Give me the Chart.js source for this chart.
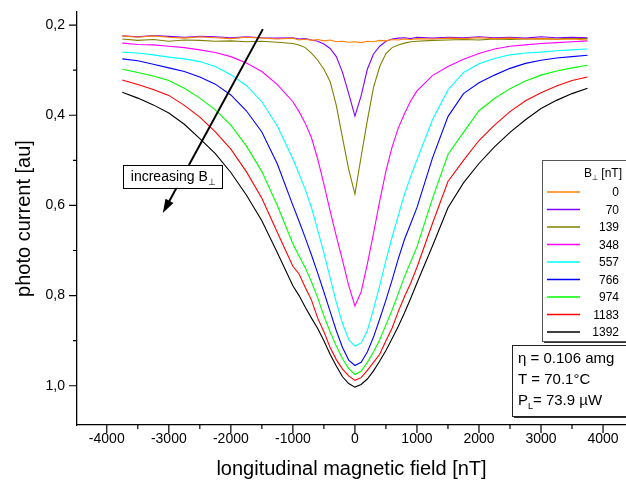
<!DOCTYPE html>
<html>
<head>
<meta charset="utf-8">
<script src="https://cdn.jsdelivr.net/npm/chart.js@4.4.0/dist/chart.umd.min.js"></script>
<style>
  html, body { margin: 0; padding: 0; background: #fff; }
  #wrap { width: 626px; height: 481px; }
</style>
</head>
<body>
<div id="wrap"><canvas id="chart" width="626" height="481"></canvas></div>
<script>
// ── Data ────────────────────────────────────────────────────
// longitudinal magnetic field sample points [nT]
const fieldNT = [-3750,-3500,-3250,-3000,-2750,-2500,-2250,-2000,-1750,-1500,-1250,-1000,
  -900,-800,-700,-600,-500,-400,-300,-200,-100,0,100,200,300,400,500,600,700,800,900,
  1000,1250,1500,1750,2000,2250,2500,2750,3000,3250,3500,3750];

// transverse field B_perp [nT], one curve each
const bPerpLabels = ['0','70','139','348','557','766','974','1183','1392'];

// photo current [au]
const photo0 = [0.224,0.227,0.224,0.227,0.229,0.226,0.228,0.230,0.227,0.229,0.231,0.229,
  0.233,0.231,0.234,0.232,0.235,0.233,0.237,0.236,0.238,0.237,0.239,0.236,0.237,0.234,0.235,0.232,0.233,0.231,0.232,
  0.230,0.231,0.229,0.230,0.228,0.230,0.229,0.231,0.230,0.232,0.231,0.233];
const photo70 = [0.224,0.226,0.223,0.225,0.227,0.225,0.226,0.228,0.226,0.228,0.229,0.228,
  0.231,0.230,0.233,0.236,0.242,0.252,0.270,0.305,0.352,0.402,0.357,0.298,0.264,0.247,0.236,0.231,0.229,0.228,0.230,
  0.227,0.229,0.227,0.228,0.226,0.228,0.227,0.229,0.226,0.228,0.227,0.228];
const photo139 = [0.231,0.234,0.232,0.236,0.233,0.234,0.236,0.235,0.237,0.236,0.238,0.241,
  0.244,0.250,0.262,0.278,0.298,0.325,0.378,0.450,0.520,0.575,0.492,0.412,0.338,0.292,0.263,0.250,0.244,0.240,0.237,
  0.236,0.234,0.233,0.232,0.233,0.231,0.232,0.231,0.230,0.231,0.229,0.230];
const photo348 = [0.240,0.243,0.244,0.247,0.250,0.255,0.261,0.270,0.284,0.303,0.332,0.370,
  0.392,0.418,0.450,0.497,0.553,0.612,0.668,0.722,0.778,0.823,0.792,0.730,0.662,0.590,0.524,0.470,0.428,0.396,0.368,
  0.346,0.312,0.292,0.276,0.263,0.253,0.247,0.244,0.241,0.239,0.237,0.235];
const photo557 = [0.260,0.262,0.266,0.271,0.275,0.281,0.292,0.310,0.334,0.370,0.424,0.497,
  0.530,0.565,0.605,0.655,0.705,0.760,0.815,0.862,0.898,0.912,0.905,0.878,0.830,0.778,0.722,0.670,0.622,0.575,0.535,
  0.499,0.410,0.344,0.305,0.286,0.274,0.266,0.262,0.260,0.257,0.255,0.253];
const photo766 = [0.275,0.279,0.287,0.295,0.303,0.315,0.331,0.355,0.390,0.437,0.508,0.600,
  0.635,0.672,0.710,0.750,0.792,0.835,0.878,0.915,0.943,0.955,0.948,0.925,0.892,0.852,0.810,0.765,0.718,0.675,0.640,
  0.605,0.495,0.403,0.352,0.328,0.311,0.296,0.285,0.278,0.273,0.270,0.267];
const photo974 = [0.298,0.305,0.313,0.323,0.340,0.362,0.388,0.422,0.468,0.525,0.600,0.685,
  0.712,0.738,0.770,0.805,0.845,0.880,0.912,0.940,0.962,0.975,0.968,0.948,0.925,0.898,0.865,0.832,0.795,0.758,0.725,
  0.692,0.585,0.487,0.438,0.390,0.363,0.341,0.324,0.311,0.302,0.295,0.289];
const photo1183 = [0.322,0.332,0.343,0.356,0.378,0.404,0.437,0.475,0.525,0.584,0.660,0.735,
  0.752,0.782,0.810,0.850,0.880,0.915,0.942,0.963,0.978,0.988,0.982,0.966,0.948,0.930,0.900,0.872,0.835,0.802,0.772,
  0.737,0.640,0.547,0.500,0.456,0.422,0.392,0.368,0.350,0.335,0.323,0.315];
const photo1392 = [0.349,0.362,0.377,0.395,0.420,0.452,0.485,0.527,0.577,0.634,0.705,0.778,
  0.800,0.826,0.850,0.873,0.900,0.930,0.956,0.980,0.995,1.003,0.997,0.985,0.967,0.945,0.922,0.895,0.868,0.838,0.806,
  0.772,0.690,0.605,0.550,0.507,0.470,0.438,0.410,0.385,0.367,0.352,0.340];

const allSeries = [photo0, photo70, photo139, photo348, photo557, photo766, photo974, photo1183, photo1392];

// axis ticks
const xTickValues = [-4000,-3000,-2000,-1000,0,1000,2000,3000,4000];
const xMinorValues = [-3500,-2500,-1500,-500,500,1500,2500,3500];
const yTickValues = [0.2,0.4,0.6,0.8,1.0];
const yMinorValues = [0.3,0.5,0.7,0.9];

// annotations
const arrowFrom = { x: -1484, y: 0.209 };
const arrowTo = { x: -3097, y: 0.617 };
const arrowNoteAt = { x: -3742, y: 0.510 };
const paramLines = [
  { main: 'η = 0.106 amg' },
  { main: 'T = 70.1°C' },
  { main: 'P', sub: 'L', rest: '= 73.9 µW' },
];

// ── Styles ───────────────────────────────────────────────────
const lineColors = ['#FF8000','#8000FF','#808000','#FF00FF','#00FFFF','#0000FF','#00FF00','#FF0000','#000000'];
const FONT = "'Liberation Sans', Arial, sans-serif";

// draws base + small subscript + rest, returns end x
function drawSubText(ctx, x, y, base, sub, rest, size) {
  ctx.font = `${size}px ${FONT}`;
  ctx.fillText(base, x, y);
  x += ctx.measureText(base).width;
  ctx.font = `${Math.round(size * 0.62)}px ${FONT}`;
  ctx.fillText(sub, x, y + size * 0.38);
  x += ctx.measureText(sub).width;
  if (rest) {
    ctx.font = `${size}px ${FONT}`;
    ctx.fillText(rest, x, y);
    x += ctx.measureText(rest).width;
  }
  return x;
}
function subTextWidth(ctx, base, sub, rest, size) {
  ctx.font = `${size}px ${FONT}`;
  let w = ctx.measureText(base).width + (rest ? ctx.measureText(rest).width : 0);
  ctx.font = `${Math.round(size * 0.62)}px ${FONT}`;
  return w + ctx.measureText(sub).width;
}

const decorations = {
  id: 'decorations',
  afterDraw(chart) {
    const { ctx, chartArea, scales: { x, y } } = chart;
    ctx.save();

    // tick marks (outside, major + minor)
    ctx.strokeStyle = '#000';
    ctx.lineWidth = 1.2;
    ctx.beginPath();
    const tickX = (v, len) => {
      const px = x.getPixelForValue(v);
      ctx.moveTo(px, chartArea.bottom); ctx.lineTo(px, chartArea.bottom + len);
    };
    const tickY = (v, len) => {
      const py = y.getPixelForValue(v);
      ctx.moveTo(chartArea.left, py); ctx.lineTo(chartArea.left - len, py);
    };
    xTickValues.forEach(v => tickX(v, 8));
    xMinorValues.forEach(v => tickX(v, 4));
    yTickValues.forEach(v => tickY(v, 8));
    yMinorValues.forEach(v => tickY(v, 4));
    ctx.stroke();

    // arrow "increasing B_perp"
    const ax1 = x.getPixelForValue(arrowFrom.x), ay1 = y.getPixelForValue(arrowFrom.y);
    const ax2 = x.getPixelForValue(arrowTo.x), ay2 = y.getPixelForValue(arrowTo.y);
    const ang = Math.atan2(ay2 - ay1, ax2 - ax1);
    const headLen = 14, headW = 4.5;
    ctx.lineWidth = 2;
    ctx.beginPath();
    ctx.moveTo(ax1, ay1);
    ctx.lineTo(ax2 - Math.cos(ang) * headLen * 0.8, ay2 - Math.sin(ang) * headLen * 0.8);
    ctx.stroke();
    ctx.fillStyle = '#000';
    ctx.beginPath();
    ctx.moveTo(ax2, ay2);
    ctx.lineTo(ax2 - Math.cos(ang) * headLen - Math.sin(ang) * headW, ay2 - Math.sin(ang) * headLen + Math.cos(ang) * headW);
    ctx.lineTo(ax2 - Math.cos(ang) * headLen + Math.sin(ang) * headW, ay2 - Math.sin(ang) * headLen - Math.cos(ang) * headW);
    ctx.closePath();
    ctx.fill();

    // note box
    const nx = x.getPixelForValue(arrowNoteAt.x), ny = y.getPixelForValue(arrowNoteAt.y);
    const nw = subTextWidth(ctx, 'increasing B', '⊥', '', 14) + 14;
    ctx.fillStyle = '#fff';
    ctx.fillRect(nx, ny, nw, 23);
    ctx.strokeStyle = '#000';
    ctx.lineWidth = 1;
    ctx.strokeRect(Math.round(nx) + 0.5, Math.round(ny) + 0.5, Math.round(nw), 23);
    ctx.fillStyle = '#000';
    ctx.textBaseline = 'middle';
    ctx.textAlign = 'left';
    drawSubText(ctx, nx + 8, ny + 12, 'increasing B', '⊥', '', 14);

    // legend box
    const lx = chartArea.right - 84, ly = 160, lw = 110, lh = 181;
    ctx.fillStyle = '#333';
    ctx.fillRect(lx + 2, ly + 2, lw, lh);
    ctx.fillStyle = '#fff';
    ctx.fillRect(lx, ly, lw, lh);
    ctx.strokeStyle = '#555';
    ctx.strokeRect(lx + 0.5, ly + 0.5, lw, lh);
    ctx.fillStyle = '#000';
    const titleRight = lx + 80;
    const tw = subTextWidth(ctx, 'B', '⊥', ' [nT]', 12);
    drawSubText(ctx, titleRight - tw, ly + 14, 'B', '⊥', ' [nT]', 12);
    bPerpLabels.forEach((lab, i) => {
      const ry = ly + 32 + i * 17.5;
      ctx.strokeStyle = lineColors[i];
      ctx.lineWidth = 1.4;
      ctx.beginPath();
      ctx.moveTo(lx + 5, ry); ctx.lineTo(lx + 38, ry);
      ctx.stroke();
      ctx.fillStyle = '#000';
      ctx.font = `12px ${FONT}`;
      ctx.textAlign = 'right';
      ctx.fillText(lab, lx + 77, ry + 1);
      ctx.textAlign = 'left';
    });

    // parameter box
    const px = chartArea.right - 114, py = 345, pw = 130, ph = 71;
    ctx.fillStyle = '#333';
    ctx.fillRect(px + 2, py + 2, pw, ph);
    ctx.fillStyle = '#fff';
    ctx.fillRect(px, py, pw, ph);
    ctx.strokeStyle = '#222';
    ctx.lineWidth = 1;
    ctx.strokeRect(px + 0.5, py + 0.5, pw, ph);
    ctx.fillStyle = '#000';
    paramLines.forEach((ln, i) => {
      const ty = py + 14 + i * 21;
      if (ln.sub) drawSubText(ctx, px + 6, ty, ln.main, ln.sub, ln.rest, 15);
      else { ctx.font = `15px ${FONT}`; ctx.fillText(ln.main, px + 6, ty); }
    });

    ctx.restore();
  }
};

const datasets = allSeries.map((vals, i) => ({
  label: bPerpLabels[i],
  data: fieldNT.map((f, j) => ({ x: f, y: vals[j] })),
  borderColor: lineColors[i],
  borderWidth: 1.1,
  pointRadius: 0,
  tension: 0,
  fill: false,
}));

new Chart(document.getElementById('chart'), {
  type: 'line',
  data: { datasets },
  options: {
    responsive: false,
    animation: false,
    devicePixelRatio: 1,
    layout: { padding: { top: 12, right: 0, bottom: 0, left: 0 } },
    plugins: { legend: { display: false }, tooltip: { enabled: false } },
    scales: {
      x: {
        type: 'linear',
        min: -4480,
        max: 4370,
        afterBuildTicks: s => { s.ticks = xTickValues.map(v => ({ value: v })); },
        afterFit: s => { s.height = 56; s.paddingLeft = 0; s.paddingRight = 0; },
        grid: { display: false, drawTicks: false },
        border: { display: true, color: '#000', width: 1.3 },
        ticks: { color: '#000', padding: 6, maxRotation: 0, autoSkip: false, font: { family: FONT, size: 14 },
          callback: v => String(v) },
        title: { display: true, text: 'longitudinal magnetic field [nT]', color: '#000', padding: { top: 0, bottom: 0 }, font: { family: FONT, size: 20 } },
      },
      y: {
        type: 'linear',
        reverse: true,
        min: 0.171,
        max: 1.087,
        afterBuildTicks: s => { s.ticks = yTickValues.map(v => ({ value: v })); },
        afterFit: s => { s.width = 77; s.paddingTop = 0; s.paddingBottom = 0; },
        grid: { display: false, drawTicks: false },
        border: { display: true, color: '#000', width: 1.3 },
        ticks: { color: '#000', padding: 12, autoSkip: false, font: { family: FONT, size: 14 },
          callback: v => v.toFixed(1).replace('.', ',') },
        title: { display: true, text: 'photo current [au]', color: '#000', padding: { top: 12, bottom: 0 }, font: { family: FONT, size: 20 } },
      },
    },
  },
  plugins: [decorations],
});
</script>
</body>
</html>
